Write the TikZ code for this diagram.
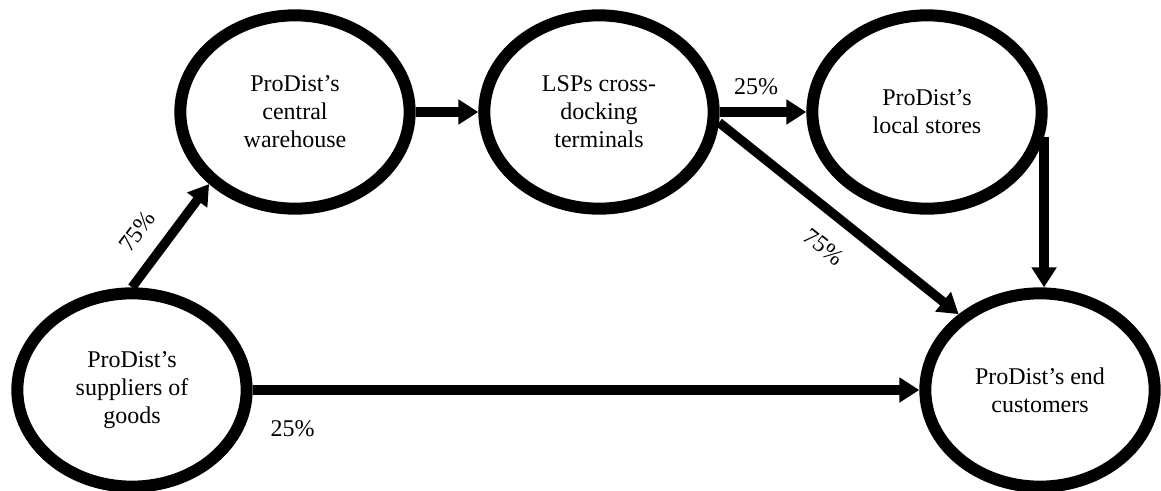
\documentclass[tikz,border=0pt]{standalone}
\usepackage{fontspec}
\setmainfont{Liberation Serif}
\usetikzlibrary{arrows.meta,positioning,shapes.geometric}

\begin{document}
\begin{tikzpicture}[x=0.75pt,y=-0.75pt,
    site/.style={ellipse,draw,line width=9pt,minimum width=172pt,minimum height=145pt,
        align=center,font=\fontsize{18pt}{21pt}\selectfont},
    flow/.style={line width=7pt},
    share/.style={font=\fontsize{18pt}{21pt}\selectfont},
    >={Triangle[length=15pt,width=18pt]}]
    \useasboundingbox (0,0) rectangle (1161,490);
    \node[site] (warehouse) at (295,112) {ProDist’s\\central\\warehouse};
    \node[site] (terminals) [right=47pt of warehouse] {LSPs cross-\\docking\\terminals};
    \node[site] (stores) [right=65pt of terminals] {ProDist’s\\local stores};
    \node[site] (suppliers) at (132,390) {ProDist’s\\suppliers of\\goods};
    \node[site] (customers) at (1040,390) {ProDist’s end\\customers};
    % 上面一行的流向
    \draw[flow,->] (warehouse.east) -- (terminals.west);
    \draw[flow,->] (terminals.east) -- node[share,above=6pt,pos=0.42] {25\%} (stores.west);
    % 斜线和竖线都落在终端客户的边上
    \draw[flow,->] (suppliers.north) -- node[share,sloped,above=9pt,pos=0.37] {75\%} (warehouse.220);
    \draw[flow,->] (terminals.-5) -- node[share,sloped,below=11pt,pos=0.52] {75\%} (customers.137);
    \draw[flow,->] (stores.-12) -- (stores.-12 |- customers.north);
    \draw[flow,->] (suppliers.east) -- node[share,below=16pt,pos=0.06] {25\%} (customers.west);
\end{tikzpicture}
\end{document}
